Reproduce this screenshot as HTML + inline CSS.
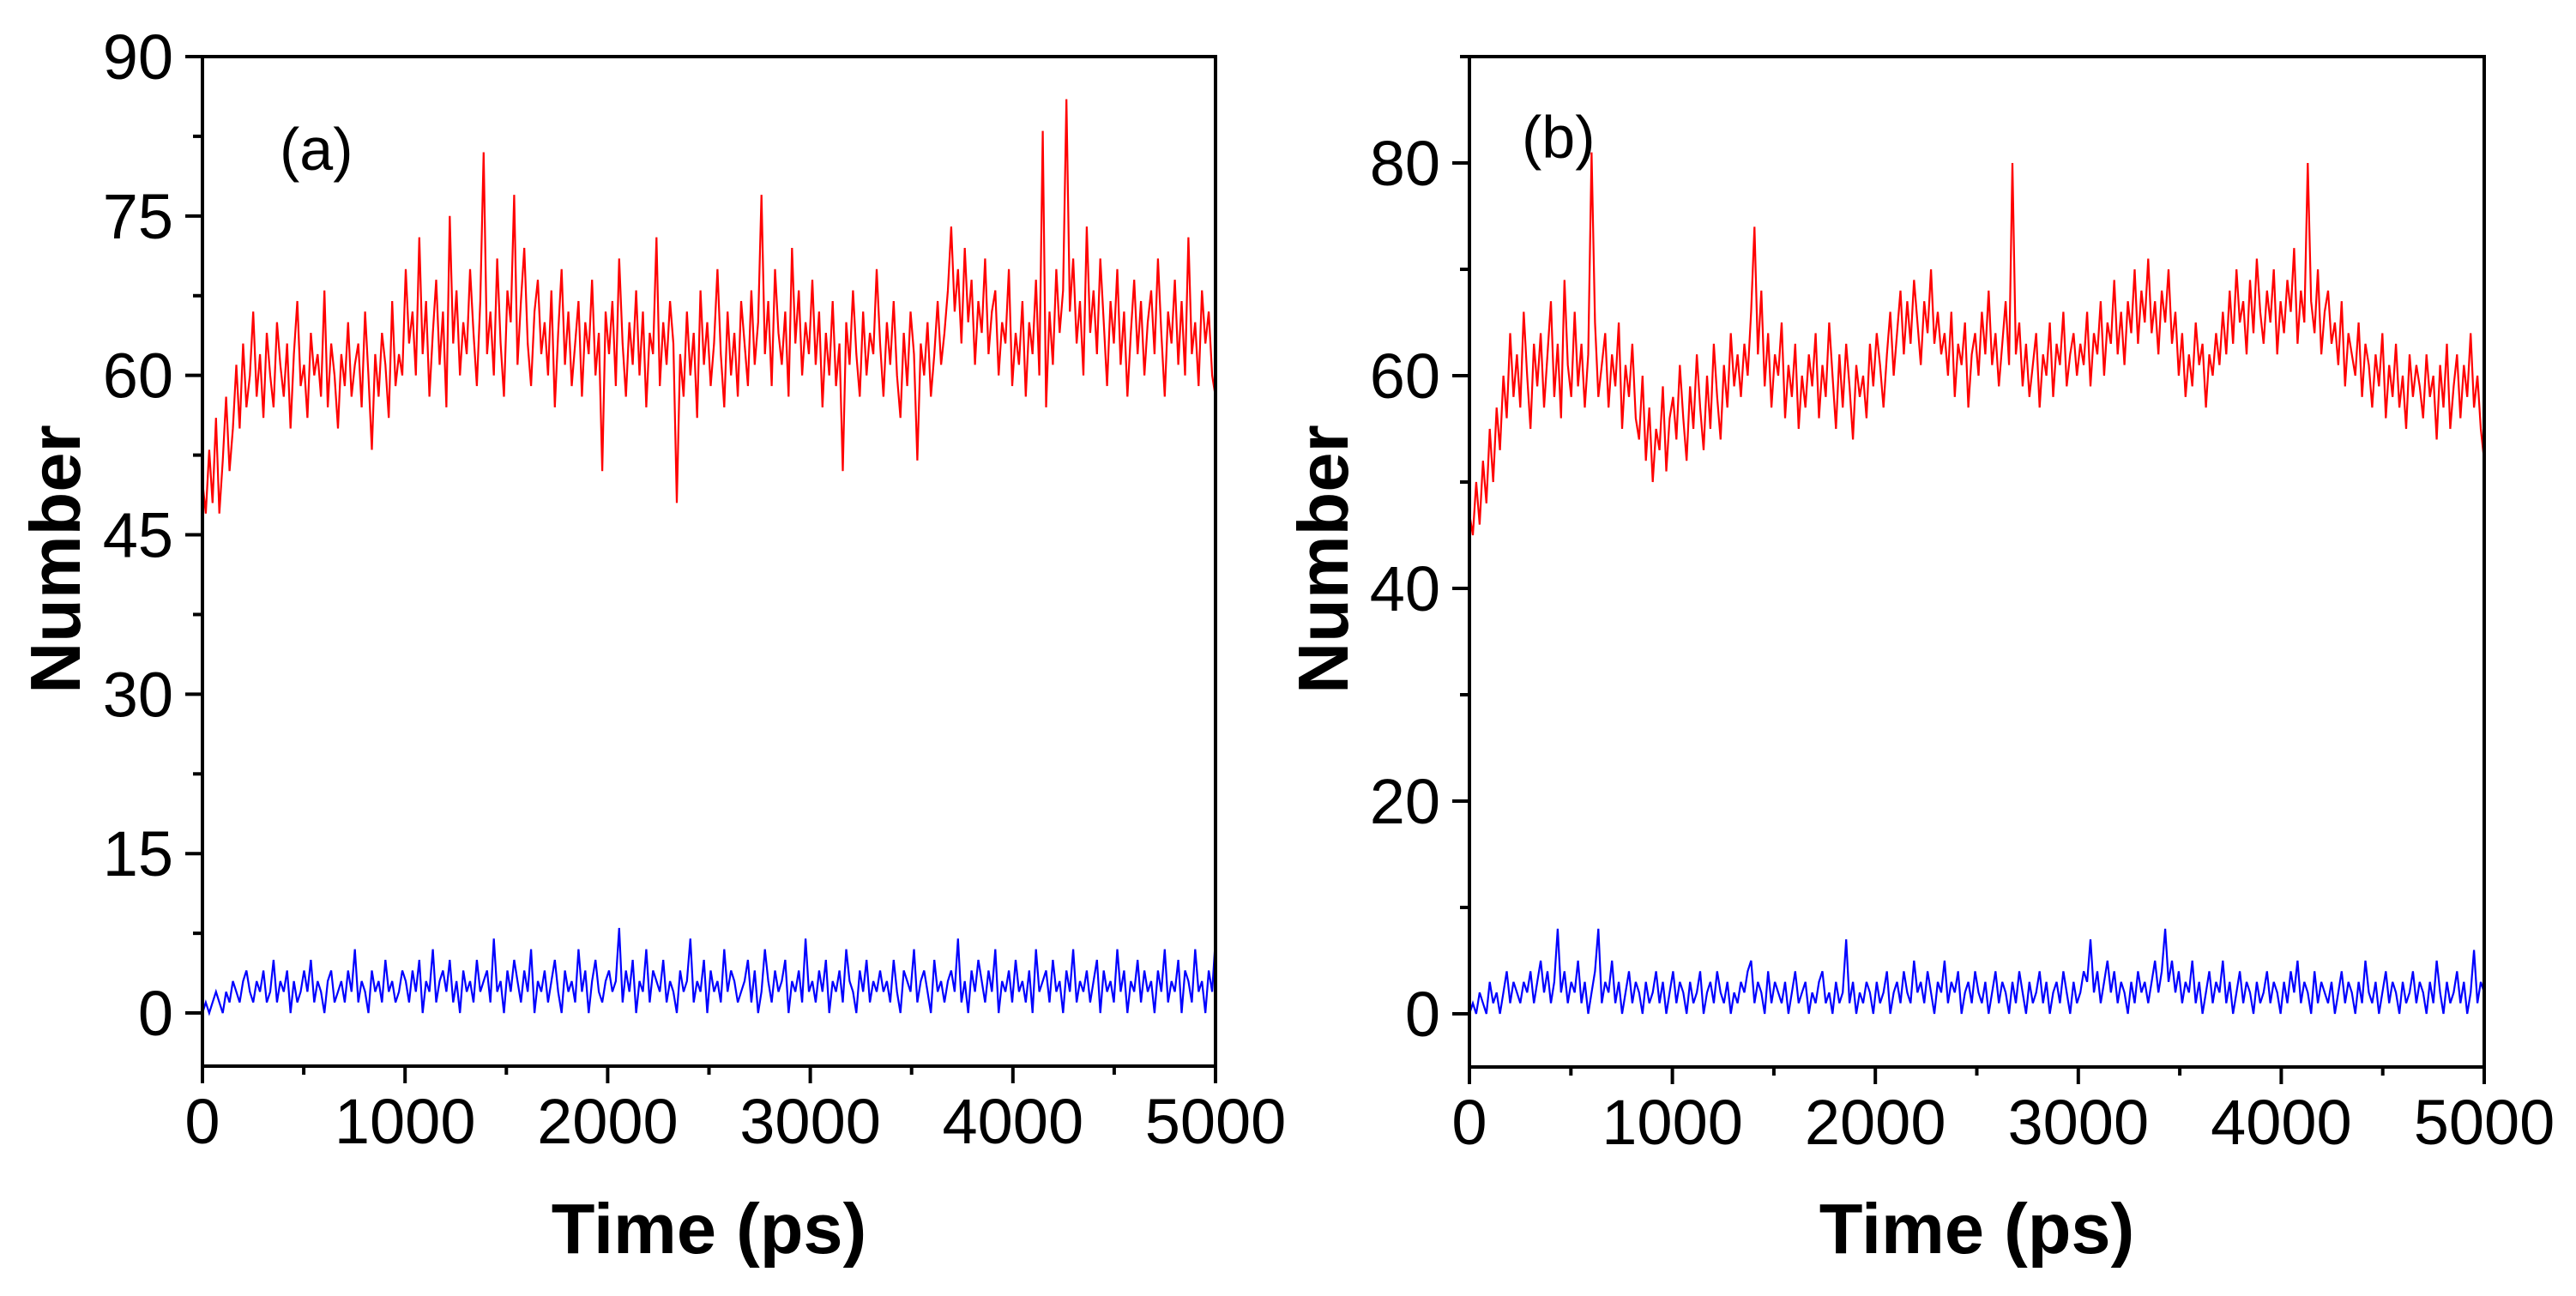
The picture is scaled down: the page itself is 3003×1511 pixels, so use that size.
<!DOCTYPE html>
<html><head><meta charset="utf-8"><style>
html,body{margin:0;padding:0;background:#fff}
svg{display:block}
text{font-family:"Liberation Sans",sans-serif;fill:#000}
</style></head><body>
<svg id="chart" width="3003" height="1511" viewBox="0 0 3003 1511" xmlns="http://www.w3.org/2000/svg"></svg>
<script>
const xTicks=[0,1000,2000,3000,4000,5000];
const yTicksA=[0,15,30,45,60,75,90];
const yTicksB=[0,20,40,60,80];
const redA=[50,47,53,48,56,47,52,58,51,55,61,55,63,57,60,66,58,62,56,64,
60,57,65,61,58,63,55,62,67,59,61,56,64,60,62,58,68,57,63,60,
55,62,59,65,58,61,63,57,66,60,53,62,58,64,61,56,67,59,62,60,
70,63,66,60,73,62,67,58,64,69,61,66,57,75,63,68,60,65,62,70,
64,59,67,81,62,66,60,71,63,58,68,65,77,61,67,72,63,59,66,69,
62,65,60,68,57,64,70,61,66,59,63,67,58,65,62,69,60,64,51,66,
62,67,59,71,63,58,65,61,68,60,66,57,64,62,73,59,65,61,67,63,
48,62,58,66,60,64,56,68,61,65,59,63,70,62,57,66,60,64,58,67,
63,59,68,61,65,77,62,67,59,70,64,61,66,58,72,63,68,60,65,62,
69,61,66,57,64,60,67,59,63,51,65,61,68,62,58,66,60,64,62,70,
63,58,65,61,67,60,56,64,59,66,62,52,63,60,65,58,62,67,61,64,
68,74,66,70,63,72,65,69,61,67,64,71,62,66,68,60,65,63,70,59,
64,61,67,58,65,62,69,60,83,57,66,61,70,64,68,86,66,71,63,67,
60,74,64,68,62,71,65,59,67,63,70,61,66,58,64,69,62,67,60,65,
68,62,71,64,58,66,63,69,61,67,60,73,62,65,59,68,63,66,60,58];
const blueA=[0,1,0,1,2,1,0,2,1,3,2,1,3,4,2,1,3,2,4,1,
2,5,1,3,2,4,0,3,1,2,4,2,5,1,3,2,0,3,4,1,
2,3,1,4,2,6,1,3,2,0,4,2,3,1,5,2,3,1,2,4,
3,1,4,2,5,0,3,2,6,1,3,4,2,5,1,3,0,4,2,3,
1,5,2,3,4,1,7,2,3,0,4,2,5,3,1,4,2,6,0,3,
2,4,1,3,5,2,0,4,2,3,1,6,2,4,0,3,5,2,1,3,
4,2,3,8,1,4,2,5,0,3,2,6,1,4,3,2,5,1,3,2,
0,4,2,3,7,1,3,2,5,0,4,2,3,1,6,2,4,3,1,2,
3,5,1,4,0,2,6,3,1,4,2,3,5,0,3,2,4,1,7,2,
3,1,4,2,5,0,3,2,4,1,6,3,2,0,4,2,5,1,3,2,
4,2,3,1,5,2,0,4,3,2,6,1,3,4,2,0,5,2,3,1,
3,4,2,7,1,3,0,4,2,5,3,1,4,2,6,0,3,2,4,1,
5,2,3,1,4,0,6,2,3,4,1,5,2,3,0,4,2,6,1,3,
2,4,1,3,5,0,4,2,3,1,6,2,4,0,3,2,5,1,4,2,
3,0,4,2,6,1,3,2,5,0,4,3,1,6,2,3,0,4,2,7];
const redB=[47,45,50,46,52,48,55,50,57,53,60,56,64,58,62,57,66,60,55,63,
59,64,57,62,67,58,63,56,69,61,58,66,59,63,57,62,81,65,58,61,
64,57,62,59,65,55,61,58,63,56,54,60,52,57,50,55,53,59,51,56,
58,54,61,56,52,59,55,62,57,53,60,55,63,58,54,61,57,64,59,62,
58,63,60,66,74,62,68,59,64,57,62,60,65,56,61,58,63,55,60,57,
62,59,64,56,61,58,65,60,55,62,57,63,59,54,61,58,60,56,63,59,
64,61,57,62,66,60,64,68,62,67,63,69,65,61,67,64,70,63,66,62,
64,60,66,58,63,61,65,57,62,64,60,66,62,68,61,64,59,63,67,61,
80,62,65,59,63,58,61,64,57,62,60,65,58,63,61,66,59,62,64,60,
63,61,66,59,64,62,67,60,65,63,69,62,66,61,67,64,70,63,68,65,
71,64,67,62,68,65,70,63,66,60,64,58,62,59,65,61,63,57,62,60,
64,61,66,62,68,63,70,65,67,62,69,64,71,66,63,68,65,70,62,67,
64,69,66,72,63,68,65,80,67,64,70,62,66,68,63,65,61,67,59,64,
62,60,65,58,63,61,57,62,59,64,56,61,58,63,57,60,55,62,58,61,
59,56,62,58,60,54,61,57,63,55,59,62,56,61,58,64,57,60,55,52];
const blueB=[0,1,0,2,1,0,3,1,2,0,2,4,1,3,2,1,3,2,4,1,
3,5,2,4,1,3,8,2,4,1,3,2,5,1,3,0,2,4,8,1,
3,2,5,1,3,0,2,4,1,3,2,0,3,1,2,4,1,3,0,2,
4,1,3,2,0,3,1,2,4,0,2,3,1,4,2,1,3,0,2,1,
3,2,4,5,1,3,2,0,4,1,3,2,1,3,0,2,4,1,2,3,
0,2,1,3,4,1,2,0,3,1,2,7,1,3,0,2,1,3,2,0,
3,1,2,4,0,2,3,1,4,2,1,5,2,3,1,4,2,0,3,2,
5,1,3,2,4,0,2,3,1,4,2,1,3,0,2,4,1,3,2,0,
3,1,4,2,0,3,1,2,4,1,3,0,2,3,1,4,2,0,3,1,
2,4,3,7,2,4,1,3,5,2,4,1,3,2,0,3,1,4,2,3,
1,3,5,2,4,8,3,5,2,4,1,3,2,5,1,3,0,2,4,1,
3,2,5,1,3,0,2,4,1,3,2,0,3,1,2,4,1,3,2,0,
3,1,4,2,5,1,3,2,0,4,1,3,2,1,3,0,2,4,1,3,
2,0,3,1,5,2,1,3,0,2,4,1,3,2,0,3,1,2,4,1,
3,2,0,3,1,5,2,0,3,1,2,4,1,3,0,2,6,1,3,2];

const NS="http://www.w3.org/2000/svg";
const svg=document.getElementById('chart');
function mk(tag,attrs,parent){const e=document.createElementNS(NS,tag);for(const k in attrs)e.setAttribute(k,attrs[k]);(parent||svg).appendChild(e);return e;}

function panel(id,left,right,top,bottom,yTicks,yMinor,red,blue,label,labelX,labelY,titleX){
  const g=mk('g',{});
  
  
  const yMin=-5,yMax=90,xMax=5000;
  const sx=v=>left+(v/xMax)*(right-left);
  const sy=v=>bottom-(v-yMin)/(yMax-yMin)*(bottom-top);
  function series(arr,color,name){
    const pts=arr.map((v,i)=>sx(i*xMax/(arr.length-1)).toFixed(1)+','+sy(v).toFixed(1)).join(' ');
    const p=mk('polyline',{points:pts,fill:'none',stroke:color,'stroke-width':2.2,'stroke-linejoin':'miter'},g);
    
    
  }
  series(red,'#ff0000','red-series-'+id);
  series(blue,'#0000ff','blue-series-'+id);
  const fr=mk('rect',{x:left,y:top,width:right-left,height:bottom-top,fill:'none',stroke:'#000','stroke-width':4},g);
  
  
  yTicks.forEach(v=>{
    const y=sy(v);
    const t=mk('line',{x1:left-20,x2:left,y1:y,y2:y,stroke:'#000','stroke-width':4},g);
    
    
    const tx=mk('text',{x:left-34,y:y+26,'text-anchor':'end','font-size':74},g);
    tx.textContent=v;
    
    
  });
  yMinor.forEach(v=>{
    const y=sy(v);
    const t=mk('line',{x1:left-11,x2:left,y1:y,y2:y,stroke:'#000','stroke-width':4},g);
    
    
  });
  xTicks.forEach(v=>{
    const x=sx(v);
    const t=mk('line',{x1:x,x2:x,y1:bottom,y2:bottom+20,stroke:'#000','stroke-width':4},g);
    
    
    const tx=mk('text',{x:x,y:bottom+90,'text-anchor':'middle','font-size':74},g);
    tx.textContent=v;
    
    
  });
  for(let v=500;v<5000;v+=1000){
    const x=sx(v);
    const t=mk('line',{x1:x,x2:x,y1:bottom,y2:bottom+10,stroke:'#000','stroke-width':4},g);
    
    
  }
  const pl=mk('text',{x:labelX,y:labelY,'font-size':70},g);
  pl.textContent=label;
  
  
  const xt=mk('text',{x:(left+right)/2,y:1461,'text-anchor':'middle','font-size':83,'font-weight':'bold'},g);
  xt.textContent='Time (ps)';
  
  
  const cy=652;
  const yt=mk('text',{x:titleX,y:cy,'text-anchor':'middle','font-size':83,'font-weight':'bold',transform:'rotate(-90 '+titleX+' '+cy+')'},g);
  yt.textContent='Number';
  
  
}
panel('a',236,1417,66,1243,yTicksA,[7.5,22.5,37.5,52.5,67.5,82.5],redA,blueA,'(a)',326,198,93);
panel('b',1713,2896,66,1244,yTicksB,[10,30,50,70,90],redB,blueB,'(b)',1774,184,1571);
</script>
</body></html>
